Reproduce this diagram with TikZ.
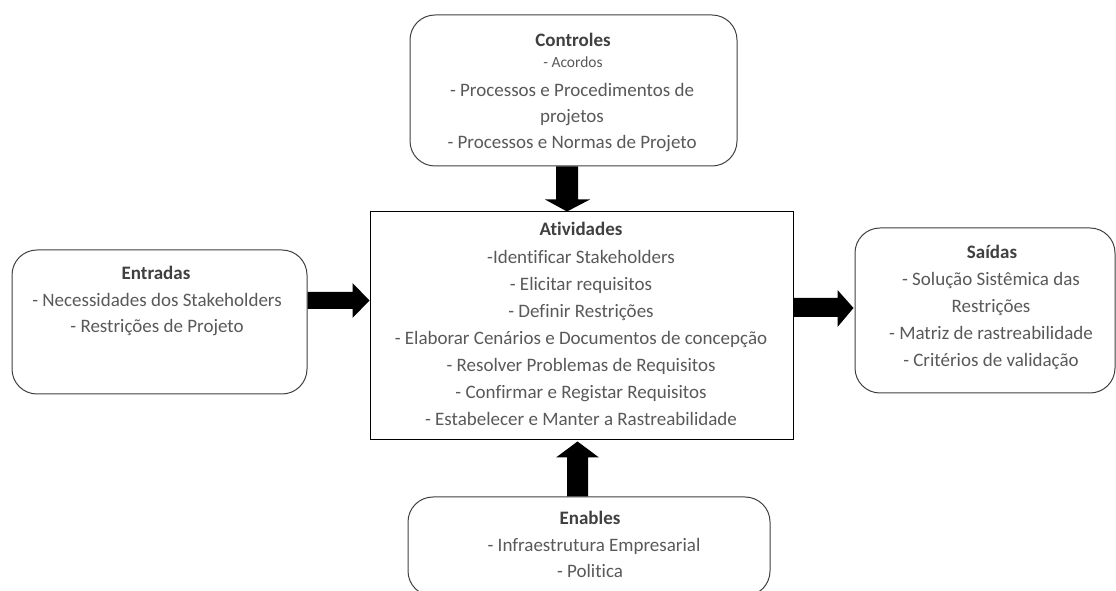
\documentclass[tikz,border=0pt]{standalone}
\usepackage{fontspec}
\setmainfont{Carlito}[Ligatures=NoCommon]
\usetikzlibrary{calc}
\definecolor{titlegray}{HTML}{404040}
\definecolor{bodygray}{HTML}{595959}
\definecolor{edgegray}{HTML}{404040}
\begin{document}
\begin{tikzpicture}[x=1pt,y=1pt,
  roundbox/.style={draw=edgegray, line width=1pt, rounded corners=25pt, fill=white, inner sep=0pt},
  plainbox/.style={draw=black, line width=1pt, fill=white, inner sep=0pt},
  txt/.style={font=\fontsize{19}{23}\selectfont, text=bodygray, anchor=base, inner sep=0pt},
  small/.style={font=\fontsize{15.5}{19}\selectfont, text=bodygray, anchor=base, inner sep=0pt},
  head/.style={font=\fontsize{19}{23}\selectfont\bfseries, text=titlegray, anchor=base, inner sep=0pt},
  fatarrow/.style={fill=black}]
\useasboundingbox (0,0) rectangle (1116,591);

% boxes
\node[roundbox, minimum width=327pt, minimum height=151pt] (ctrl) at (573.5,500.5) {};
\node[plainbox, minimum width=423pt, minimum height=228pt] (act) at (581.5,265) {};
\node[roundbox, minimum width=295pt, minimum height=144pt] (ent) at (159.5,269) {};
\node[roundbox, minimum width=260pt, minimum height=165pt] (sai) at (985,280.5) {};
\node[roundbox, minimum width=362pt, minimum height=99pt] (ena) at (589,44.5) {};

% block arrows
\fill[fatarrow] let \p1=(ctrl.south), \p2=(act.north) in
  (556,\y1) -- (578,\y1) -- (578,\y2+12) -- (590,\y2+12) -- (567,\y2)
  -- (545,\y2+12) -- (556,\y2+12) -- cycle;
\fill[fatarrow] let \p1=(ena.north), \p2=(act.south) in
  (567,\y1) -- (567,\y2-17) -- (556,\y2-17) -- (577.5,\y2-1)
  -- (599,\y2-17) -- (588,\y2-17) -- (588,\y1) -- cycle;
\fill[fatarrow] let \p1=(ent.east), \p2=(act.west) in
  (\x1,299) -- (\x2-17,299) -- (\x2-17,308) -- (\x2,290.5) -- (\x2-17,273)
  -- (\x2-17,282) -- (\x1,282) -- cycle;
\fill[fatarrow] let \p1=(act.east), \p2=(sai.west) in
  (\x1,293) -- (\x2-17,293) -- (\x2-17,301) -- (\x2-1,283) -- (\x2-17,264)
  -- (\x2-17,274) -- (\x1,274) -- cycle;

% Controles
\node[head] (c0) at (573,544) {Controles};
\node[small] (c1) at (573,523) {- Acordos};
\node[txt] (c2) at (572,494) {- Processos e Procedimentos de};
\node[txt] (c3) at (572,468) {projetos};
\node[txt] (c4) at (572,442) {- Processos e Normas de Projeto};

% Atividades
\node[head] (a0) at (581,355) {Atividades};
\node[txt] (a1) at (581,327) {-Identificar Stakeholders};
\node[txt] (a2) at (581,300) {- Elicitar requisitos};
\node[txt] (a3) at (581,273) {- Definir Restrições};
\node[txt] (a4) at (581,246) {- Elaborar Cenários e Documentos de concepção};
\node[txt] (a5) at (581,219) {- Resolver Problemas de Requisitos};
\node[txt] (a6) at (581,192) {- Confirmar e Registar Requisitos};
\node[txt] (a7) at (581,165) {- Estabelecer e Manter a Rastreabilidade};

% Entradas
\node[head] (e0) at (156,311) {Entradas};
\node[txt] (e1) at (157,284) {- Necessidades dos Stakeholders};
\node[txt] (e2) at (157,258) {- Restrições de Projeto};

% Saidas
\node[head] (s0) at (992,332) {Saídas};
\node[txt] (s1) at (991,305) {- Solução Sistêmica das};
\node[txt] (s2) at (991,278) {Restrições};
\node[txt] (s3) at (991,251) {- Matriz de rastreabilidade};
\node[txt] (s4) at (991,224) {- Critérios de validação};

% Enables
\node[head] (n0) at (590,66) {Enables};
\node[txt] (n1) at (594,39) {- Infraestrutura Empresarial};
\node[txt] (n2) at (590,13) {- Politica};
\end{tikzpicture}
\end{document}
